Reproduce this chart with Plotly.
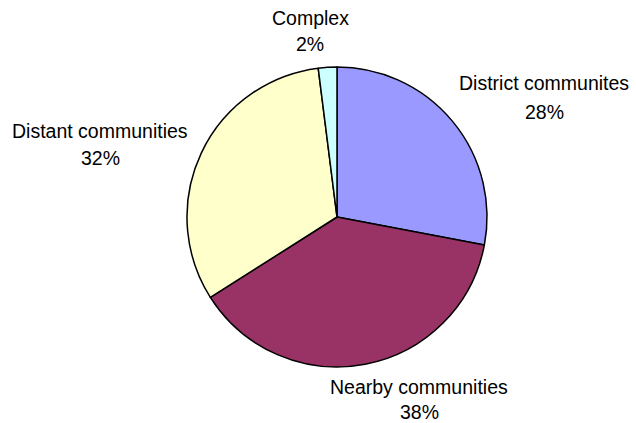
import plotly.graph_objects as go

# Share of respondents by where they come from
labels = ["District communites", "Nearby communities", "Distant communities", "Complex"]
values = [28, 38, 32, 2]
colors = ["#9999FF", "#993366", "#FFFFCC", "#CCFFFF"]

# Label placement in pixels: centre x, then y of the name line and of the percent line
label_pos = {
    "District communites": (544, 83, 112),
    "Nearby communities": (419, 387, 412),
    "Distant communities": (100, 131, 158),
    "Complex": (310, 18, 44),
}

W, H = 636, 423
cx, cy, r = 337, 217, 150
FONT = dict(family="Liberation Sans, Arial, sans-serif", size=19.5, color="black")

fig = go.Figure(
    go.Pie(
        labels=labels,
        values=values,
        sort=False,
        direction="clockwise",
        rotation=0,
        marker=dict(colors=colors, line=dict(color="black", width=1.5)),
        textinfo="none",
        hoverinfo="label+percent",
        showlegend=False,
        domain=dict(
            x=[(cx - r) / W, (cx + r) / W],
            y=[1 - (cy + r) / H, 1 - (cy - r) / H],
        ),
    )
)

total = sum(values)
for lab, val in zip(labels, values):
    px, y_name, y_pct = label_pos[lab]
    for text, py in ((lab, y_name), (f"{round(100 * val / total)}%", y_pct)):
        fig.add_annotation(
            x=px / W,
            y=1 - py / H,
            xref="paper",
            yref="paper",
            text=text,
            showarrow=False,
            xanchor="center",
            yanchor="middle",
            font=FONT,
        )

fig.update_layout(
    width=W,
    height=H,
    margin=dict(l=0, r=0, t=0, b=0),
    paper_bgcolor="white",
    plot_bgcolor="white",
)

fig.write_html("out.html")
